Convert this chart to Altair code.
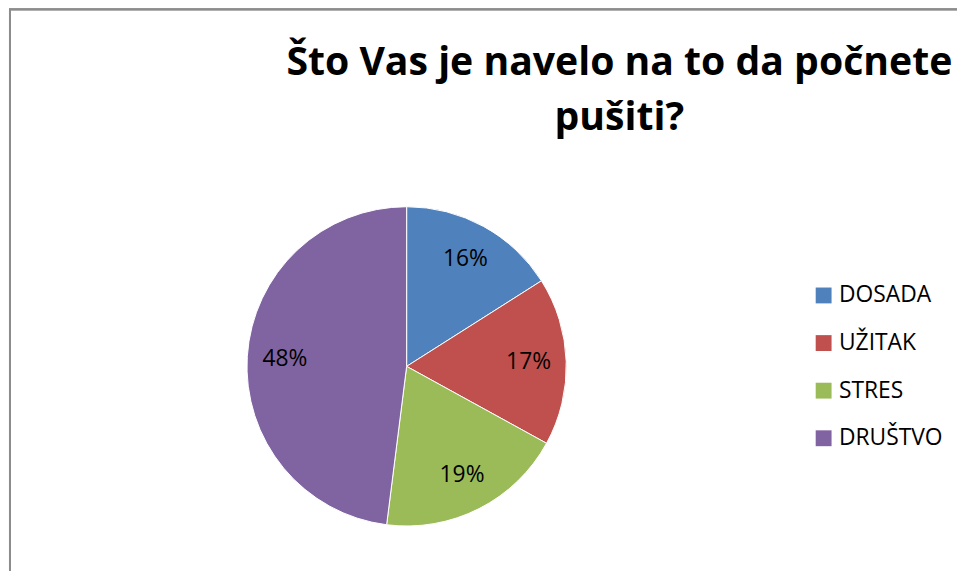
import altair as alt
import pandas as pd

categories = ["DOSADA", "UŽITAK", "STRES", "DRUŠTVO"]
values = [16, 17, 19, 48]
labels = ["16%", "17%", "19%", "48%"]
colors = ["#4F81BD", "#C0504D", "#9BBB59", "#8064A2"]
title_lines = ["Što Vas je navelo na to da počnete", "pušiti?"]

df = pd.DataFrame({"kategorija": categories, "vrijednost": values,
                   "oznaka": labels, "red": list(range(len(categories)))})

FONT = "Open Sans"
W, H = 957, 565
CX, CY = 402, 359

base = alt.Chart(df).encode(
    theta=alt.Theta("vrijednost:Q", stack=True),
    order=alt.Order("red:Q"),
)

pie = base.mark_arc(outerRadius=161, stroke="white", strokeWidth=1).encode(
    x=alt.value(CX), y=alt.value(CY),
    color=alt.Color("kategorija:N",
                    scale=alt.Scale(domain=categories, range=colors),
                    sort=categories,
                    legend=alt.Legend(title=None, orient="none", legendX=811, legendY=276,
                                      symbolType="square", symbolSize=256,
                                      symbolStrokeWidth=0, labelFont=FONT,
                                      labelFontSize=23, labelColor="#000000",
                                      labelOffset=4, rowPadding=24, padding=0)),
)

text = base.mark_text(radius=123, font=FONT, fontSize=23, color="#000000").encode(
    x=alt.value(CX), y=alt.value(CY), text="oznaka:N"
)

frame_left = alt.Chart(df).mark_rule(color="#8c8c8c", strokeWidth=2).encode(
    x=alt.value(2), y=alt.value(-1), y2=alt.value(H)
)
frame_top = alt.Chart(df).mark_rule(color="#8c8c8c", strokeWidth=2).encode(
    x=alt.value(1), x2=alt.value(W), y=alt.value(-1)
)

chart = alt.layer(frame_left, frame_top, pie, text).properties(
    width=W, height=H,
    autosize=alt.AutoSizeParams(type="none"),
    padding=0,
    title=alt.TitleParams(title_lines, font=FONT, fontSize=39.5, fontWeight="bold",
                          color="#000000", anchor="middle", dx=138, offset=-131,
                          lineHeight=55),
).configure_view(stroke=None)

chart.save("out.html", embed_options={"renderer": "svg", "actions": False})
